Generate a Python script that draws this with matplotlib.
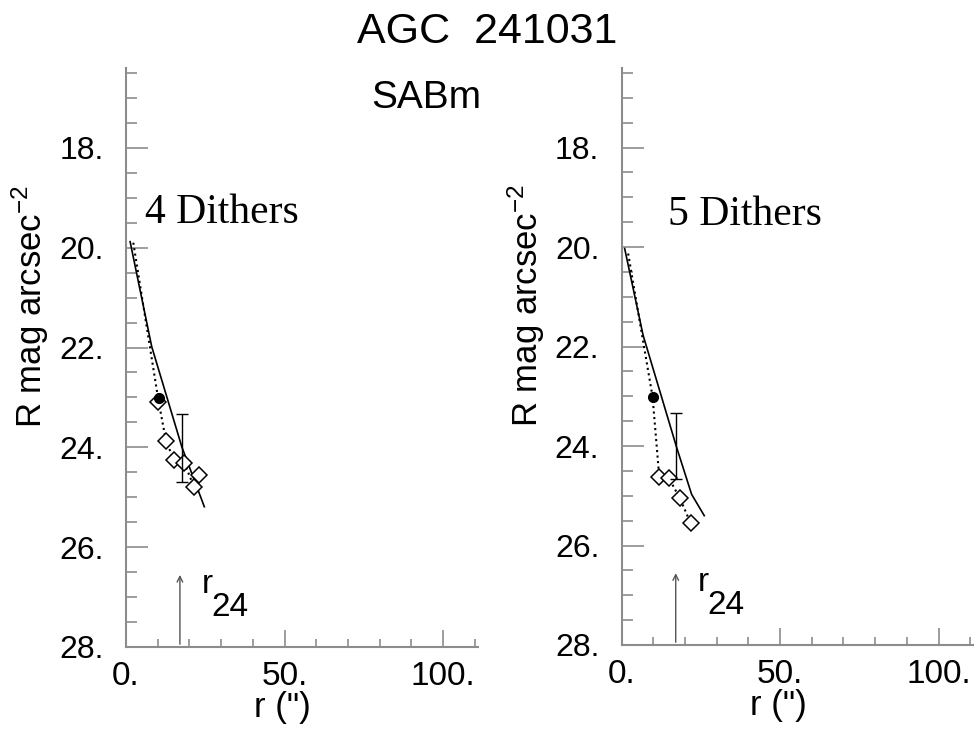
import numpy as np
import matplotlib
matplotlib.use('Agg')
import matplotlib.pyplot as plt
from matplotlib.ticker import MultipleLocator, FuncFormatter

plt.rcParams['font.family'] = ['Liberation Sans', 'DejaVu Sans']
plt.rcParams['mathtext.default'] = 'regular'

# Datos
titulo = 'AGC  241031'
tipo = 'SABm'
paneles = ['4 Dithers', '5 Dithers']
pos_paneles = [(6.0, 19.5), (14.6, 19.55)]

# panel izquierdo (4 dithers)
r_solida_4 = [1.3, 8.1, 17.6, 24.7]
m_solida_4 = [19.88, 21.98, 23.99, 25.19]
r_punt_4 = [2.3, 10.2, 12.6, 15.1, 18.4, 21.5, 23.1]
m_punt_4 = [19.9, 23.05, 23.87, 24.25, 24.31, 24.80, 24.56]
r_diam_4 = [10.0, 12.6, 15.1, 18.4, 21.5, 23.1]
m_diam_4 = [23.10, 23.87, 24.25, 24.31, 24.80, 24.56]
r_lleno_4 = [10.5]
m_lleno_4 = [23.02]
err_r_4 = 17.6
err_lo_4, err_hi_4 = 23.34, 24.69
r24_4 = 17.0

# panel derecho (5 dithers)
r_solida_5 = [1.0, 6.8, 17.4, 22.1, 26.1]
m_solida_5 = [20.03, 21.77, 24.03, 24.97, 25.4]
r_punt_5 = [2.1, 9.8, 11.9, 15.0, 18.4, 21.8]
m_punt_5 = [20.13, 23.01, 24.62, 24.65, 25.05, 25.55]
r_diam_5 = [11.9, 15.0, 18.4, 21.8]
m_diam_5 = [24.62, 24.65, 25.05, 25.55]
r_lleno_5 = [9.8]
m_lleno_5 = [23.01]
err_r_5 = 17.1
err_lo_5, err_hi_5 = 23.33, 24.67
r24_5 = 17.1

gris = '#8c8c8c'

fig = plt.figure(figsize=(9.74, 7.38), dpi=100)
ax1 = fig.add_axes([126/974, 91/738, 352/974, 579/738])
ax2 = fig.add_axes([621.5/974, 93/738, 352/974, 577/738])

datos = [
    (ax1, r_solida_4, m_solida_4, r_punt_4, m_punt_4, r_diam_4, m_diam_4,
     r_lleno_4, m_lleno_4, err_r_4, err_lo_4, err_hi_4, r24_4, paneles[0], pos_paneles[0]),
    (ax2, r_solida_5, m_solida_5, r_punt_5, m_punt_5, r_diam_5, m_diam_5,
     r_lleno_5, m_lleno_5, err_r_5, err_lo_5, err_hi_5, r24_5, paneles[1], pos_paneles[1]),
]

for (ax, rs, ms, rp, mp, rd, md, rl, ml, er, elo, ehi, r24, etiqueta, pos) in datos:
    ax.plot(rs, ms, '-', color='black', lw=1.2)
    ax.plot(rp, mp, ':', color='black', lw=1.5)
    ax.plot(rd, md, 'D', mfc='white', mec='black', mew=1.1, ms=8, ls='none')
    ax.plot(rl, ml, 'o', color='black', ms=7, ls='none')
    ax.errorbar([er], [(elo + ehi) / 2], yerr=[[(ehi - elo) / 2], [(ehi - elo) / 2]],
                fmt='none', ecolor='black', elinewidth=1.0, capsize=4, capthick=1.0)
    ax.annotate('', xy=(r24, 26.5), xytext=(r24, 28.0),
                arrowprops=dict(arrowstyle='->', color='#555555', lw=1.0))
    # r_24: la "r" elevada y el "24" del mismo tamaño
    ax.text(r24 + 7.0, 26.92, 'r', fontsize=24, ha='left', va='baseline')
    ax.text(r24 + 10.0, 27.38, '24', fontsize=24, ha='left', va='baseline')
    ax.text(pos[0], pos[1], etiqueta, fontsize=30, family='Liberation Serif',
            ha='left', va='baseline')

    ax.set_xlim(0, 111)
    ax.set_ylim(28, 16.4)
    for lado in ['top', 'right']:
        ax.spines[lado].set_visible(False)
    for lado in ['left', 'bottom']:
        ax.spines[lado].set_color(gris)
        ax.spines[lado].set_linewidth(1.5)
    ax.xaxis.set_major_locator(MultipleLocator(50))
    ax.xaxis.set_minor_locator(MultipleLocator(10))
    ax.yaxis.set_major_locator(MultipleLocator(2))
    ax.yaxis.set_minor_locator(MultipleLocator(0.5))
    ax.xaxis.set_major_formatter(FuncFormatter(lambda v, p: f'{int(round(v))}.'))
    ax.yaxis.set_major_formatter(FuncFormatter(lambda v, p: f'{int(round(v))}.'))
    ax.tick_params(axis='both', which='both', direction='in', color=gris, width=1.2)
    ax.tick_params(axis='y', which='major', length=16, pad=16, labelsize=23)
    ax.tick_params(axis='y', which='minor', length=8)
    ax.tick_params(axis='x', which='major', length=12, pad=10, labelsize=24)
    ax.tick_params(axis='x', which='minor', length=6)
    ax.set_xlabel('r (")', fontsize=25)
    ax.set_ylabel('R mag arcsec$^{-2}$', fontsize=25)
    ax.xaxis.set_label_coords(0.445, -0.076)
    ax.yaxis.set_label_coords(-0.212, 0.589)
    ax.patch.set_alpha(0)

fig.text(0.5, 1 - 43/738, titulo, fontsize=31, ha='center', va='baseline')
ax1.text(0.854, 0.931, tipo, transform=ax1.transAxes, fontsize=28, ha='center', va='baseline')

plt.savefig('out.png', dpi=100)
